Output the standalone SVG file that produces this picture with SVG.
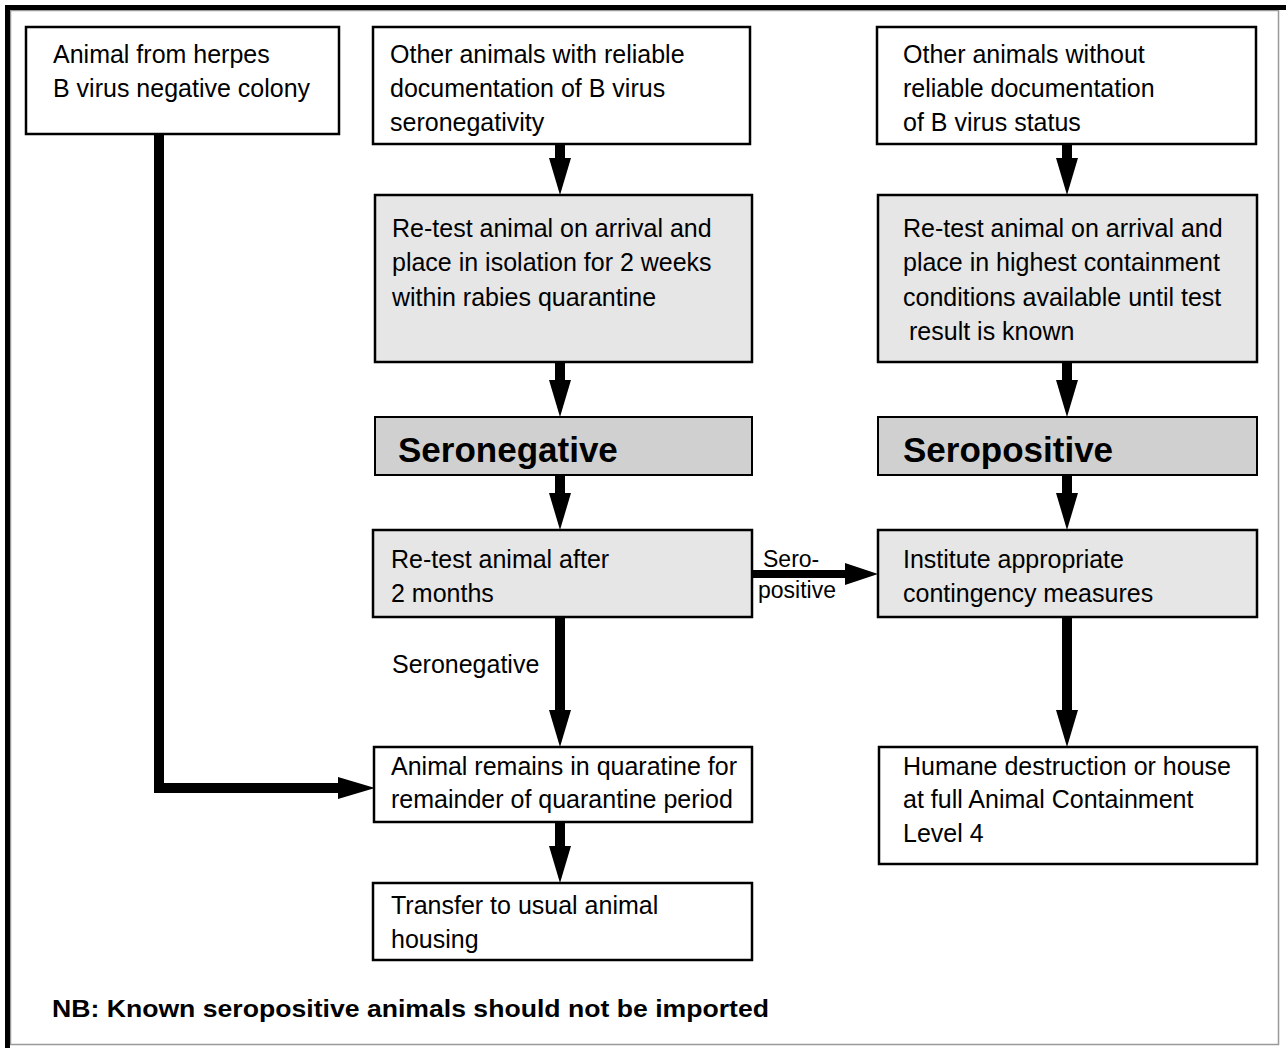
<svg xmlns="http://www.w3.org/2000/svg" width="1286" height="1048" viewBox="0 0 1286 1048">
<style>
  .box { fill: #ffffff; stroke: #000; stroke-width: 2.5; }
  .lt { fill: #e6e6e6; stroke: #000; stroke-width: 2.5; }
  .dk { fill: #d0d0d0; stroke: #000; stroke-width: 2; }
  text { font-family: "Liberation Sans", Arial, sans-serif; fill: #000; }
  .t { font-size: 25px; }
  .b { font-size: 35px; font-weight: bold; }
  .s { font-size: 23px; }
  .nb { font-size: 24px; font-weight: bold; }
  .c { fill: none; stroke: #000; stroke-width: 10; }
  .c8 { fill: none; stroke: #000; stroke-width: 8; }
</style>
<defs>
  <marker id="ah" viewBox="0 0 37 22" refX="0" refY="11" markerWidth="37" markerHeight="22" markerUnits="userSpaceOnUse" orient="auto">
    <path d="M0,0 L37,11 L0,22 Z" fill="#000"/>
  </marker>
  <marker id="ahs" viewBox="0 0 33 22" refX="0" refY="11" markerWidth="33" markerHeight="22" markerUnits="userSpaceOnUse" orient="auto">
    <path d="M0,0 L33,11 L0,22 Z" fill="#000"/>
  </marker>
</defs>

<g id="frame">
  <rect x="10.5" y="10.5" width="1268" height="1034" fill="none" stroke="#999" stroke-width="1.5"/>
  <rect x="5" y="5" width="1281" height="5" fill="#000"/>
  <rect x="5" y="5" width="5" height="1043" fill="#000"/>
</g>

<g id="connectors">
  <line class="c" x1="560" y1="144" x2="560" y2="158" marker-end="url(#ah)"/>
  <line class="c" x1="560" y1="362" x2="560" y2="380" marker-end="url(#ah)"/>
  <line class="c" x1="560" y1="475" x2="560" y2="493" marker-end="url(#ah)"/>
  <line class="c" x1="560" y1="617" x2="560" y2="710" marker-end="url(#ah)"/>
  <line class="c" x1="560" y1="822" x2="560" y2="846" marker-end="url(#ah)"/>
  <line class="c" x1="1067" y1="144" x2="1067" y2="158" marker-end="url(#ah)"/>
  <line class="c" x1="1067" y1="362" x2="1067" y2="380" marker-end="url(#ah)"/>
  <line class="c" x1="1067" y1="475" x2="1067" y2="493" marker-end="url(#ah)"/>
  <line class="c" x1="1067" y1="617" x2="1067" y2="710" marker-end="url(#ah)"/>
  <line class="c8" x1="752" y1="574" x2="845" y2="574" marker-end="url(#ahs)"/>
  <polyline class="c" points="159,134 159,788 338,788" marker-end="url(#ah)"/>
  <text class="s" x="763" y="567">Sero-</text>
  <text class="s" x="758" y="598">positive</text>
  <text class="t" x="392" y="673">Seronegative</text>
</g>

<g id="nodeA">
  <rect class="box" x="26" y="27" width="313" height="107"/>
  <text class="t" x="53" y="63">Animal from herpes</text>
  <text class="t" x="53" y="97">B virus negative colony</text>
</g>
<g id="nodeB">
  <rect class="box" x="373" y="27" width="377" height="117"/>
  <text class="t" x="390" y="63">Other animals with reliable</text>
  <text class="t" x="390" y="97">documentation of B virus</text>
  <text class="t" x="390" y="131">seronegativity</text>
</g>
<g id="nodeC">
  <rect class="box" x="877" y="27" width="379" height="117"/>
  <text class="t" x="903" y="63">Other animals without</text>
  <text class="t" x="903" y="97">reliable documentation</text>
  <text class="t" x="903" y="131">of B virus status</text>
</g>
<g id="nodeD">
  <rect class="lt" x="375" y="195" width="377" height="167"/>
  <text class="t" x="392" y="237">Re-test animal on arrival and</text>
  <text class="t" x="392" y="271">place in isolation for 2 weeks</text>
  <text class="t" x="392" y="306">within rabies quarantine</text>
</g>
<g id="nodeE">
  <rect class="lt" x="878" y="195" width="379" height="167"/>
  <text class="t" x="903" y="237">Re-test animal on arrival and</text>
  <text class="t" x="903" y="271">place in highest containment</text>
  <text class="t" x="903" y="306">conditions available until test</text>
  <text class="t" x="909" y="340">result is known</text>
</g>
<g id="nodeF">
  <rect class="dk" x="375" y="417" width="377" height="58"/>
  <text class="b" x="398" y="462">Seronegative</text>
</g>
<g id="nodeG">
  <rect class="dk" x="878" y="417" width="379" height="58"/>
  <text class="b" x="903" y="462">Seropositive</text>
</g>
<g id="nodeH">
  <rect class="lt" x="373" y="530" width="379" height="87"/>
  <text class="t" x="391" y="568">Re-test animal after</text>
  <text class="t" x="391" y="602">2 months</text>
</g>
<g id="nodeI">
  <rect class="lt" x="878" y="530" width="379" height="87"/>
  <text class="t" x="903" y="568">Institute appropriate</text>
  <text class="t" x="903" y="602">contingency measures</text>
</g>
<g id="nodeJ">
  <rect class="box" x="374" y="747" width="378" height="75"/>
  <text class="t" x="391" y="775">Animal remains in quaratine for</text>
  <text class="t" x="391" y="808">remainder of quarantine period</text>
</g>
<g id="nodeK">
  <rect class="box" x="879" y="747" width="378" height="117"/>
  <text class="t" x="903" y="775">Humane destruction or house</text>
  <text class="t" x="903" y="808">at full Animal Containment</text>
  <text class="t" x="903" y="842">Level 4</text>
</g>
<g id="nodeL">
  <rect class="box" x="373" y="883" width="379" height="77"/>
  <text class="t" x="391" y="914">Transfer to usual animal</text>
  <text class="t" x="391" y="948">housing</text>
</g>
<g id="note">
  <text class="nb" x="52" y="1017" textLength="717" lengthAdjust="spacingAndGlyphs">NB: Known seropositive animals should not be imported</text>
</g>
</svg>
